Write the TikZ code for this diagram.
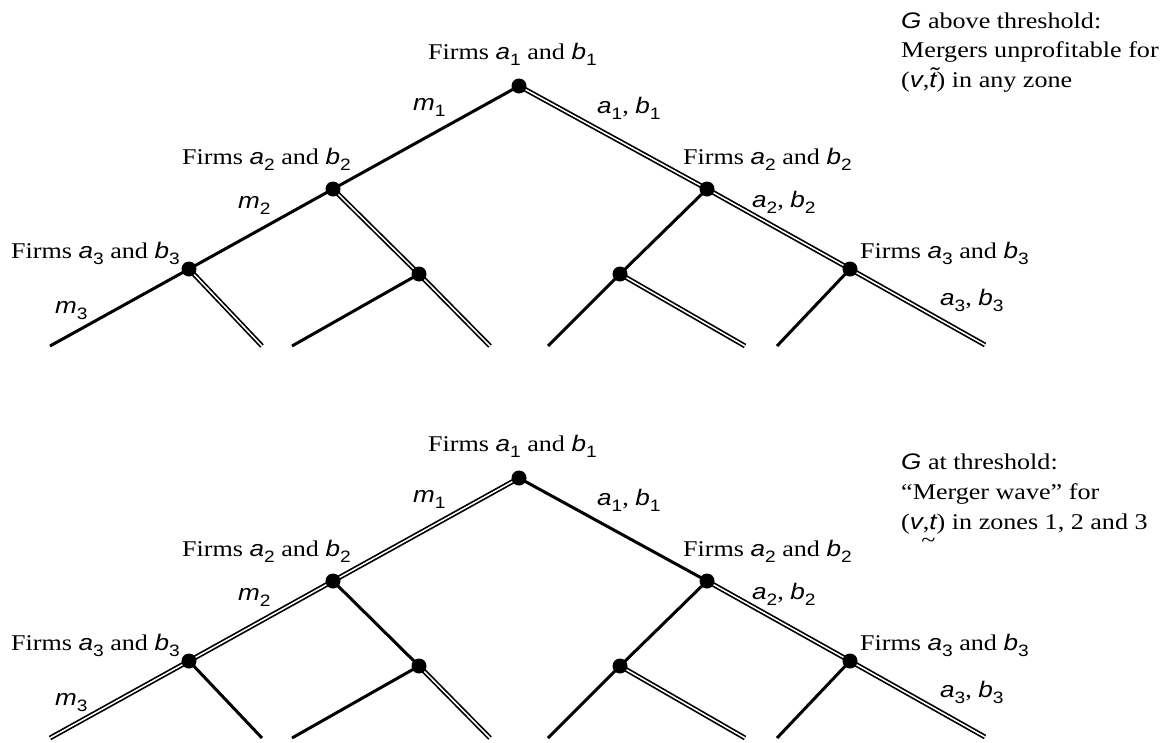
\documentclass[tikz,border=0pt]{standalone}
\usepackage{fontspec}
\setmainfont{Liberation Serif}[FakeStretch=1.16]
\newfontfamily\hv{Liberation Sans}[FakeStretch=1.16]
\newcommand{\iv}[1]{{\hv\itshape #1}}
\newcommand{\sbs}[1]{\raisebox{-0.3em}{\hv\fontsize{16.5}{16.5}\selectfont #1}}
\tikzset{
  single/.style={line width=3pt, line cap=butt},
  dbl/.style={line width=1.7pt, double=white, double distance=1.5pt, line cap=butt},
  dot/.style={circle, fill=black, inner sep=0pt, minimum size=15pt},
  lab/.style={anchor=base west, inner sep=0pt, font=\fontsize{22.5}{29}\selectfont},
}
\begin{document}
\begin{tikzpicture}[x=1pt,y=-1pt]
\useasboundingbox (0,0) rectangle (1175,742);
% ---------- top tree ----------
\coordinate (T0) at (519,86);
\coordinate (TL) at (333,189);
\coordinate (TR) at (707,189);
\coordinate (TLL) at (189,269);
\coordinate (TLR) at (419,274);
\coordinate (TRL) at (620,274);
\coordinate (TRR) at (850,269);
\coordinate (TLLa) at (50,346);
\coordinate (TLLb) at (262,346);
\coordinate (TLRa) at (292,346);
\coordinate (TLRb) at (490,346);
\coordinate (TRLa) at (548,346);
\coordinate (TRLb) at (745,346);
\coordinate (TRRa) at (777,346);
\coordinate (TRRb) at (985,345);
\draw[single] (T0) -- (TL);
\draw[single] (TL) -- (TLL);
\draw[single] (TLL) -- (TLLa);
\draw[single] (TLR) -- (TLRa);
\draw[single] (TR) -- (TRL);
\draw[single] (TRL) -- (TRLa);
\draw[single] (TRR) -- (TRRa);
\draw[dbl] (T0) -- (TR);
\draw[dbl] (TR) -- (TRR);
\draw[dbl] (TRR) -- (TRRb);
\draw[dbl] (TL) -- (TLR);
\draw[dbl] (TLR) -- (TLRb);
\draw[dbl] (TLL) -- (TLLb);
\draw[dbl] (TRL) -- (TRLb);
\foreach \n in {T0,TL,TR,TLL,TLR,TRL,TRR} \node[dot] (d\n) at (\n) {};
% ---------- bottom tree ----------
\coordinate (B0) at (519,478);
\coordinate (BL) at (333,581);
\coordinate (BR) at (707,581);
\coordinate (BLL) at (189,661);
\coordinate (BLR) at (419,666);
\coordinate (BRL) at (620,666);
\coordinate (BRR) at (850,661);
\coordinate (BLLa) at (50,738);
\coordinate (BLLb) at (262,738);
\coordinate (BLRa) at (292,738);
\coordinate (BLRb) at (490,738);
\coordinate (BRLa) at (548,738);
\coordinate (BRLb) at (745,738);
\coordinate (BRRa) at (777,738);
\coordinate (BRRb) at (985,737);
\draw[single] (B0) -- (BR);
\draw[single] (BL) -- (BLR);
\draw[single] (BLL) -- (BLLb);
\draw[single] (BLR) -- (BLRa);
\draw[single] (BR) -- (BRL);
\draw[single] (BRL) -- (BRLa);
\draw[single] (BRR) -- (BRRa);
\draw[dbl] (B0) -- (BL);
\draw[dbl] (BL) -- (BLL);
\draw[dbl] (BLL) -- (BLLa);
\draw[dbl] (BR) -- (BRR);
\draw[dbl] (BRR) -- (BRRb);
\draw[dbl] (BLR) -- (BLRb);
\draw[dbl] (BRL) -- (BRLb);
\foreach \n in {B0,BL,BR,BLL,BLR,BRL,BRR} \node[dot] (d\n) at (\n) {};
% ---------- labels ----------
\foreach \dy/\p in {0/t,392/b}{
  \node[lab] (\p f1) at (428,59+\dy) {Firms \iv{a}\sbs{1} and \iv{b}\sbs{1}};
  \node[lab] (\p m1) at (413,110+\dy) {\iv{m}\sbs{1}};
  \node[lab] (\p ab1) at (597,113+\dy) {\iv{a}\sbs{1}, \iv{b}\sbs{1}};
  \node[lab] (\p f2l) at (182,164+\dy) {Firms \iv{a}\sbs{2} and \iv{b}\sbs{2}};
  \node[lab] (\p f2r) at (683,164+\dy) {Firms \iv{a}\sbs{2} and \iv{b}\sbs{2}};
  \node[lab] (\p m2) at (238,208+\dy) {\iv{m}\sbs{2}};
  \node[lab] (\p ab2) at (752,207+\dy) {\iv{a}\sbs{2}, \iv{b}\sbs{2}};
  \node[lab] (\p f3l) at (11,258+\dy) {Firms \iv{a}\sbs{3} and \iv{b}\sbs{3}};
  \node[lab] (\p f3r) at (860,258+\dy) {Firms \iv{a}\sbs{3} and \iv{b}\sbs{3}};
  \node[lab] (\p m3) at (55,313+\dy) {\iv{m}\sbs{3}};
  \node[lab] (\p ab3) at (940,305+\dy) {\iv{a}\sbs{3}, \iv{b}\sbs{3}};
}
% ---------- captions ----------
\node[lab] (c1) at (901,28) {\iv{G} above threshold:};
\node[lab] (c2) at (901,57) {Mergers unprofitable for};
\node[lab] (c3) at (901,87) {(\iv{v},\iv{\~{t}}) in any zone};
\node[lab] (e1) at (901,469) {\iv{G} at threshold:};
\node[lab] (e2) at (901,499) {“Merger wave” for};
\node[lab] (e3) at (901,529) {(\iv{v},\iv{t}\llap{\raisebox{-0.8em}{\~{}}\hspace{0.05em}}) in zones 1, 2 and 3};
\end{tikzpicture}
\end{document}
